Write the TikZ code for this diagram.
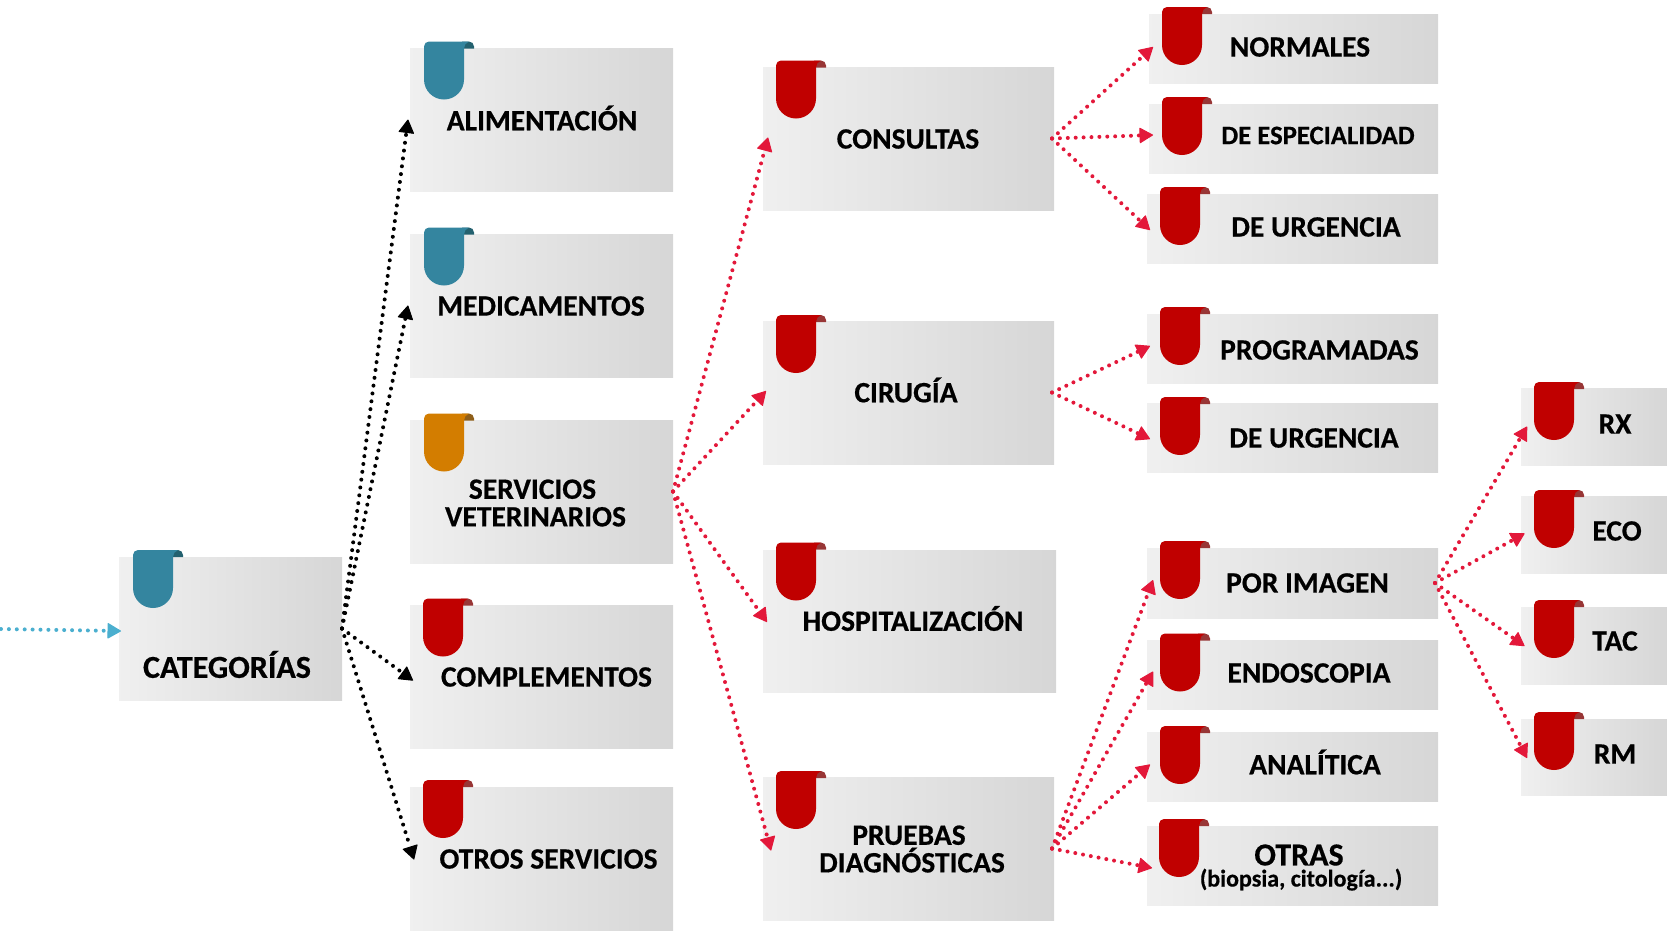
\documentclass[tikz,border=0pt]{standalone}
\usepackage{fontspec}
\setmainfont{Carlito}[BoldFeatures={FakeBold=0.5}]
\usetikzlibrary{arrows.meta}
\definecolor{tealr}{HTML}{34859F}
\definecolor{tealf}{HTML}{24616F}
\definecolor{redr}{HTML}{C00000}
\definecolor{redf}{HTML}{983636}
\definecolor{oranger}{HTML}{D37D00}
\definecolor{orangef}{HTML}{8F5F1A}
\definecolor{arrowred}{HTML}{E3183A}
\definecolor{arrowblue}{HTML}{4BAFCF}
\tikzset{
 panel/.style={anchor=north west,inner sep=0pt,outer sep=0pt,left color=black!6,right color=black!16,shading angle=90},
 lbl/.style={inner sep=0pt,outer sep=0pt,align=center,text=black,font=\fontsize{29.5}{27.6}\selectfont\bfseries},
 lblsmall/.style={lbl,font=\fontsize{26.7}{27}\selectfont\bfseries},
 link/.style={line width=4pt,line cap=round,dash pattern=on 0pt off 7.9pt},
 tipstyle/.style={-{Triangle[length=14pt,width=16pt,round,line width=1pt]}},
 linkblack/.style={link,black,tipstyle},
 linkred/.style={link,arrowred,tipstyle},
 linkblue/.style={link,arrowblue,tipstyle},
}
\newcommand{\bx}[5]{\node[panel,minimum width=#4pt,minimum height=#5pt] (#1) at (#2,#3) {};}
\newcommand{\ribbon}[4]{%
 \fill[#4] (#1+38,#2) -- (#1+45,#2) arc[start angle=-90,end angle=0,radius=5] -- (#1+50,#2+7) -- (#1+40,#2+7) -- cycle;
 \fill[#3] (#1+5,#2) -- (#1+45,#2) .. controls (#1+42,#2+1) and (#1+40,#2+4) .. (#1+40,#2+7) -- (#1+40,#2+38) arc[start angle=0,end angle=180,radius=20] -- (#1,#2+5) arc[start angle=180,end angle=270,radius=5] -- cycle;
}
\begin{document}
\begin{tikzpicture}[x=1pt,y=-1pt]
\useasboundingbox (0,0) rectangle (1667,930);
% panels
\bx{cat}{119}{557}{223}{143}
\bx{alim}{410}{48}{263}{143}
\bx{med}{410}{234}{263}{143}
\bx{serv}{410}{420}{263}{143}
\bx{comp}{410}{605}{263}{143}
\bx{otros}{410}{787}{263}{143}
\bx{cons}{763}{67}{291}{143}
\bx{ciru}{763}{321}{291}{143}
\bx{hosp}{763}{550}{293}{142}
\bx{prue}{763}{777}{291}{143}
\bx{norm}{1149}{14}{289}{69}
\bx{espe}{1149}{104}{289}{69}
\bx{urga}{1147}{194}{291}{69}
\bx{prog}{1147}{314}{291}{69}
\bx{urgb}{1147}{403}{291}{69}
\bx{imag}{1147}{548}{291}{70}
\bx{endo}{1147}{640}{291}{69}
\bx{anal}{1147}{732}{291}{69}
\bx{otra}{1147}{826}{291}{79}
\bx{rx}{1521}{388}{146}{77}
\bx{eco}{1521}{496}{146}{77}
\bx{tac}{1521}{607}{146}{77}
\bx{rm}{1521}{719}{146}{76}
% ribbons
\ribbon{133}{550}{tealr}{tealf}
\ribbon{424}{41.5}{tealr}{tealf}
\ribbon{424}{227.5}{tealr}{tealf}
\ribbon{424}{413.5}{oranger}{orangef}
\ribbon{423}{598.5}{redr}{redf}
\ribbon{423}{780}{redr}{redf}
\ribbon{776}{60.5}{redr}{redf}
\ribbon{776}{315}{redr}{redf}
\ribbon{776}{542.5}{redr}{redf}
\ribbon{776}{771}{redr}{redf}
\ribbon{1162}{7}{redr}{redf}
\ribbon{1162}{97}{redr}{redf}
\ribbon{1160}{187}{redr}{redf}
\ribbon{1160}{307}{redr}{redf}
\ribbon{1160}{397}{redr}{redf}
\ribbon{1160}{541}{redr}{redf}
\ribbon{1160}{633.5}{redr}{redf}
\ribbon{1160}{726}{redr}{redf}
\ribbon{1159}{819}{redr}{redf}
\ribbon{1534}{382}{redr}{redf}
\ribbon{1534}{490}{redr}{redf}
\ribbon{1534}{600}{redr}{redf}
\ribbon{1534}{712}{redr}{redf}
% labels
\node[lbl,font=\fontsize{32}{27.6}\selectfont\bfseries] (tcat) at (227,664.5) {CATEGORÍAS};
\node[lbl] (talim) at (542,118) {ALIMENTACIÓN};
\node[lbl] (tmed) at (541,306) {MEDICAMENTOS};
\node[lbl] (tserv) at (535.5,503) {SERVICIOS\hspace*{6pt}\\VETERINARIOS};
\node[lbl] (tcomp) at (546.5,677) {COMPLEMENTOS};
\node[lbl] (totros) at (548.5,859) {OTROS SERVICIOS};
\node[lbl] (tcons) at (908,139) {CONSULTAS};
\node[lbl] (tciru) at (906,390) {CIRUGÍA};
\node[lbl] (thosp) at (913,618.5) {HOSPITALIZACIÓN};
\node[lbl] (tprue) at (912,849) {PRUEBAS\hspace*{6pt}\\DIAGNÓSTICAS};
\node[lbl] (tnorm) at (1300,47) {NORMALES};
\node[lblsmall] (tespe) at (1318,135.5) {DE ESPECIALIDAD};
\node[lbl] (turga) at (1316,227) {DE URGENCIA};
\node[lbl] (tprog) at (1319.5,350) {PROGRAMADAS};
\node[lbl] (turgb) at (1314,438) {DE URGENCIA};
\node[lbl] (timag) at (1307.5,583) {POR IMAGEN};
\node[lbl] (tendo) at (1309,673) {ENDOSCOPIA};
\node[lbl] (tanal) at (1315,762) {ANALÍTICA};
\node[lbl] (totra) at (1301,867.5) {\fontsize{32}{21}\selectfont OTRAS\hspace*{4pt}\\[-6.5pt]\fontsize{24}{21}\selectfont (biopsia, citología...)};
\node[lbl] (trx) at (1615,424) {RX};
\node[lbl] (teco) at (1617,531) {ECO};
\node[lbl] (ttac) at (1615,641) {TAC};
\node[lbl] (trm) at (1615,754) {RM};
% connectors
\coordinate (incoming) at (1,629);
\draw[linkblue] (incoming) -- ([shift={(2pt,-2.5pt)}]cat.west);
\draw[linkblack] (cat.east) -- ([xshift=-2pt]alim.west);
\draw[linkblack] (cat.east) -- ([xshift=-2pt]med.west);
\draw[linkblack] (cat.east) -- ([shift={(3pt,-4pt)}]comp.west);
\draw[linkblack] (cat.east) -- ([shift={(4pt,-1pt)}]otros.west);
\draw[linkred] (serv.east) -- ([xshift=5pt,yshift=1pt]cons.west);
\draw[linkred] (serv.east) -- ([xshift=3pt,yshift=1.5pt]ciru.west);
\draw[linkred] (serv.east) -- ([shift={(4pt,-1pt)}]hosp.west);
\draw[linkred] (serv.east) -- ([shift={(8pt,-2pt)}]prue.west);
\draw[linkred] ([xshift=-2pt]cons.east) -- ([shift={(4pt,1.5pt)}]norm.west);
\draw[linkred] ([xshift=-2pt]cons.east) -- ([shift={(4pt,3.5pt)}]espe.west);
\draw[linkred] ([xshift=-2pt]cons.east) -- ([shift={(3pt,-1.5pt)}]urga.west);
\draw[linkred] ([xshift=-2pt]ciru.east) -- ([shift={(3pt,2.5pt)}]prog.west);
\draw[linkred] ([xshift=-2pt]ciru.east) -- ([shift={(3pt,-1.5pt)}]urgb.west);
\draw[linkred] ([xshift=-2pt]prue.east) -- ([shift={(6pt,3pt)}]imag.west);
\draw[linkred] ([xshift=-2pt]prue.east) -- ([shift={(6pt,3pt)}]endo.west);
\draw[linkred] ([xshift=-2pt]prue.east) -- ([shift={(3pt,2pt)}]anal.west);
\draw[linkred] ([xshift=-2pt]prue.east) -- ([shift={(5pt,-2.5pt)}]otra.west);
\draw[linkred] ([xshift=-3pt]imag.east) -- ([shift={(6pt,0pt)}]rx.west);
\draw[linkred] ([xshift=-3pt]imag.east) -- ([shift={(3.5pt,1pt)}]eco.west);
\draw[linkred] ([xshift=-3pt]imag.east) -- ([shift={(3.5pt,-0.5pt)}]tac.west);
\draw[linkred] ([xshift=-3pt]imag.east) -- ([shift={(6pt,-1pt)}]rm.west);
\end{tikzpicture}
\end{document}
